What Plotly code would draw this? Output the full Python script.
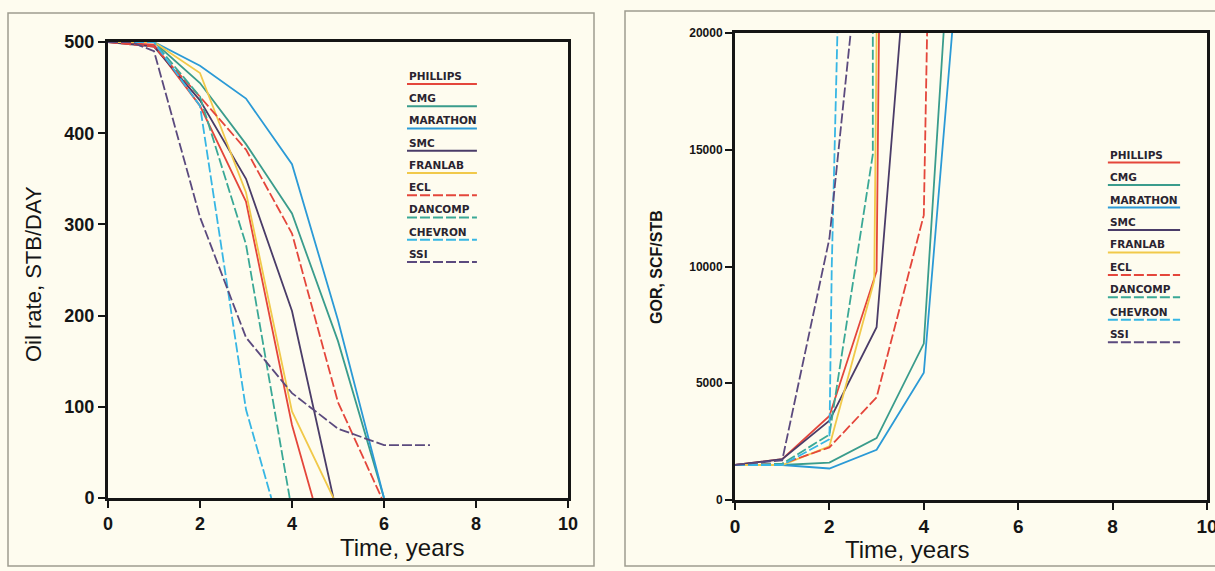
import plotly.graph_objects as go

# ---- data ---------------------------------------------------------------
series = ["PHILLIPS", "CMG", "MARATHON", "SMC", "FRANLAB",
          "ECL", "DANCOMP", "CHEVRON", "SSI"]

# Oil rate, STB/DAY versus time, years
oil_t = {
    "PHILLIPS": [0, 1, 2, 3, 4, 4.45],
    "CMG":      [0, 1, 2, 3, 4, 5, 6],
    "MARATHON": [0, 1, 2, 3, 4, 5, 6],
    "SMC":      [0, 1, 2, 3, 4, 4.9],
    "FRANLAB":  [0, 1, 2, 3, 4, 4.9],
    "ECL":      [0, 1, 2, 3, 4, 5, 5.95],
    "DANCOMP":  [0, 1, 2, 3, 3.95],
    "CHEVRON":  [0, 1, 2, 3, 3.55],
    "SSI":      [0, 0.5, 1, 2, 3, 4, 5, 6, 7],
}
oil_q = {
    "PHILLIPS": [500, 497, 430, 325, 80, 0],
    "CMG":      [500, 500, 455, 388, 312, 172, 0],
    "MARATHON": [500, 500, 474, 438, 366, 195, 0],
    "SMC":      [500, 495, 436, 350, 205, 0],
    "FRANLAB":  [500, 500, 466, 335, 95, 0],
    "ECL":      [500, 495, 440, 382, 290, 105, 0],
    "DANCOMP":  [500, 500, 440, 278, 0],
    "CHEVRON":  [500, 500, 430, 97, 0],
    "SSI":      [500, 500, 490, 308, 176, 115, 76, 58, 58],
}

# Gas-oil ratio, SCF/STB versus time, years
gor_t = {
    "PHILLIPS": [0, 1, 2, 3, 3.05],
    "CMG":      [0, 1, 2, 3, 4, 4.42],
    "MARATHON": [0, 1, 2, 3, 4, 4.6],
    "SMC":      [0, 1, 2, 3, 3.5],
    "FRANLAB":  [0, 1, 2, 2.95, 3.0],
    "ECL":      [0, 1, 2, 3, 4, 4.07],
    "DANCOMP":  [0, 1, 2, 2.92, 2.92],
    "CHEVRON":  [0, 1, 2, 2.05, 2.17],
    "SSI":      [0, 1, 2, 2.45],
}
gor_r = {
    "PHILLIPS": [1500, 1750, 3600, 9800, 20000],
    "CMG":      [1500, 1500, 1600, 2650, 6700, 20000],
    "MARATHON": [1500, 1500, 1350, 2150, 5450, 20000],
    "SMC":      [1500, 1750, 3400, 7400, 20000],
    "FRANLAB":  [1500, 1500, 2300, 9400, 20000],
    "ECL":      [1500, 1550, 2250, 4400, 12200, 20000],
    "DANCOMP":  [1500, 1550, 2800, 14800, 20000],
    "CHEVRON":  [1500, 1500, 2600, 10000, 20000],
    "SSI":      [1500, 1700, 11200, 20000],
}

x_ticks = [0, 2, 4, 6, 8, 10]
oil_ticks = [0, 100, 200, 300, 400, 500]
gor_ticks = [0, 5000, 10000, 15000, 20000]
gor_tick_text = ["0", "5000", "10000", "15000", "20000"]

# ---- styles -------------------------------------------------------------
style = {
    "PHILLIPS": ("#E4463B", "solid"),
    "CMG":      ("#3A9C8C", "solid"),
    "MARATHON": ("#2B9AD6", "solid"),
    "SMC":      ("#4A3C68", "solid"),
    "FRANLAB":  ("#F1C94A", "solid"),
    "ECL":      ("#E4463B", "10px,3px"),
    "DANCOMP":  ("#3AA896", "10px,3px"),
    "CHEVRON":  ("#37B6E4", "10px,3px"),
    "SSI":      ("#5B4A7E", "10px,3px"),
}

BG = "#FEFCEF"
INK = "#151515"
TICK_FONT = "Liberation Sans"

fig = go.Figure()

for name in series:
    color, dash = style[name]
    fig.add_trace(go.Scatter(x=oil_t[name], y=oil_q[name], mode="lines",
                             line=dict(color=color, width=1.8, dash=dash),
                             xaxis="x", yaxis="y", showlegend=False,
                             name=name))
for name in series:
    color, dash = style[name]
    fig.add_trace(go.Scatter(x=gor_t[name], y=gor_r[name], mode="lines",
                             line=dict(color=color, width=1.8, dash=dash),
                             xaxis="x2", yaxis="y2", showlegend=False,
                             name=name))

# ---- hand-drawn style key in each panel ---------------------------------
def add_key(xref, yref, x0, x1, y0, step):
    for i, name in enumerate(series):
        color, dash = style[name]
        yy = y0 - i * step
        fig.add_trace(go.Scatter(x=[x0, x1], y=[yy, yy], mode="lines",
                                 line=dict(color=color, width=2, dash=dash),
                                 xaxis=xref, yaxis=yref, showlegend=False,
                                 hoverinfo="skip"))
        fig.add_annotation(x=x0, y=yy, xref=xref, yref=yref, text=name,
                           showarrow=False, xanchor="left", yanchor="bottom",
                           yshift=0,
                           font=dict(family="DejaVu Sans", size=10.5,
                                     color="#2a2430", weight="bold"))

add_key("x", "y", 6.5, 8.02, 454, 24.4)
add_key("x2", "y2", 7.9, 9.43, 14450, 962)

# ---- axes ---------------------------------------------------------------
axis_common = dict(showgrid=False, zeroline=False, showline=True, mirror=True,
                   linecolor=INK, linewidth=3, ticks="outside", ticklen=7,
                   tickwidth=1.5, tickcolor=INK, automargin=False,
                   ticklabeloverflow="allow")

fig.update_layout(
    width=1215, height=571,
    margin=dict(l=0, r=0, t=0, b=0, autoexpand=False),
    paper_bgcolor=BG, plot_bgcolor=BG,
    xaxis=dict(domain=[108 / 1215, 568 / 1215], anchor="y", range=[0, 10],
               tickvals=x_ticks,
               tickfont=dict(family=TICK_FONT, size=18, color=INK,
                             weight="bold"), **axis_common),
    yaxis=dict(domain=[1 - 498 / 571, 1 - 42 / 571], anchor="x",
               range=[0, 500], tickvals=oil_ticks,
               tickfont=dict(family=TICK_FONT, size=18, color=INK,
                             weight="bold"), **axis_common),
    xaxis2=dict(domain=[735 / 1215, 1207 / 1215], anchor="y2", range=[0, 10],
                tickvals=x_ticks,
                tickfont=dict(family=TICK_FONT, size=19, color=INK,
                              weight="bold"), **axis_common),
    yaxis2=dict(domain=[1 - 500 / 571, 1 - 33 / 571], anchor="x2",
                range=[0, 20000], tickvals=gor_ticks, ticktext=gor_tick_text,
                tickfont=dict(family=TICK_FONT, size=12, color=INK,
                              weight="bold"), **axis_common),
)

# ---- axis titles ----------------------------------------------------------
title_font = dict(family="Liberation Sans", color=INK)
fig.add_annotation(x=338 / 1215, y=1 - 547 / 571, xref="paper", yref="paper",
                   text="Time, years", showarrow=False, yanchor="middle",
                   font=dict(size=24, **title_font))
fig.add_annotation(x=971 / 1215, y=1 - 549 / 571, xref="paper", yref="paper",
                   text="Time, years", showarrow=False, yanchor="middle",
                   font=dict(size=24, **title_font))
fig.add_annotation(x=33 / 1215, y=1 - 274 / 571, xref="paper", yref="paper",
                   text="Oil rate, STB/DAY", showarrow=False, textangle=-90,
                   xanchor="center",
                   font=dict(size=22, **title_font))
fig.add_annotation(x=656 / 1215, y=1 - 267 / 571, xref="paper", yref="paper",
                   text="GOR, SCF/STB", showarrow=False, textangle=-90,
                   xanchor="center",
                   font=dict(size=16, weight="bold", **title_font))

# ---- panel frames ---------------------------------------------------------
frame = dict(color="#9E9C90", width=1.5)
fig.add_shape(type="rect", xref="paper", yref="paper", line=frame,
              x0=8 / 1215, x1=594 / 1215, y0=1 - 566 / 571, y1=1 - 13 / 571)
fig.add_shape(type="rect", xref="paper", yref="paper", line=frame,
              x0=625 / 1215, x1=1.01, y0=1 - 566 / 571, y1=1 - 11 / 571)

fig.write_html("out.html")
